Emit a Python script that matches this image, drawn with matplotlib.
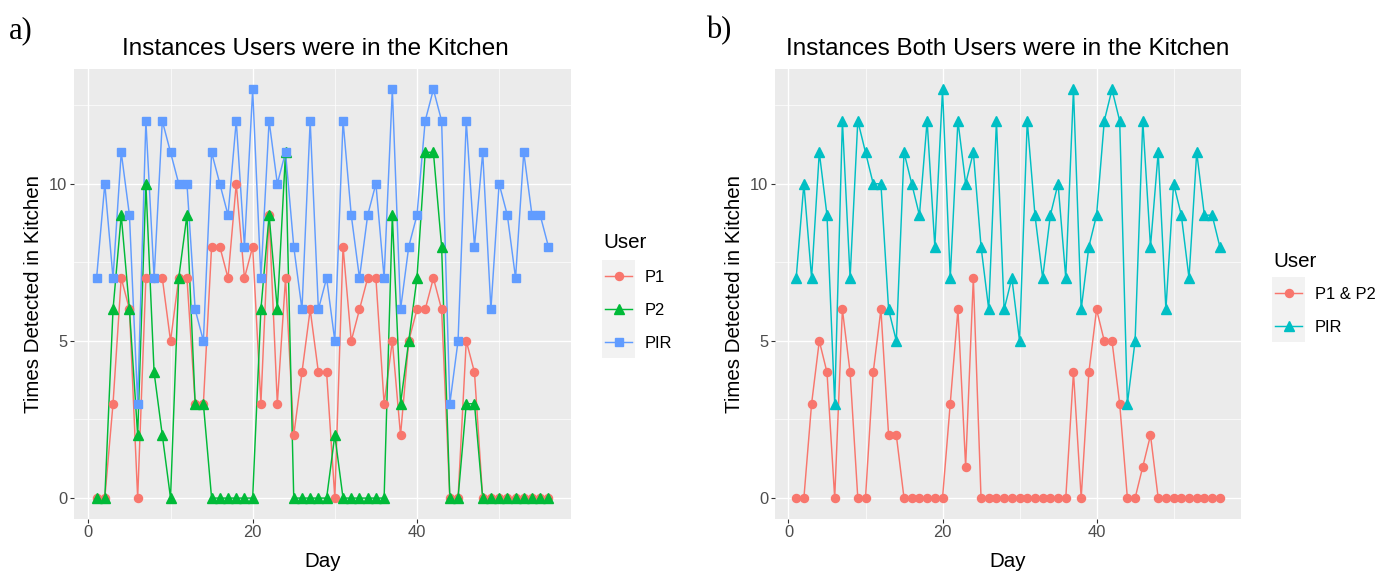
import matplotlib
matplotlib.use("Agg")
import matplotlib.pyplot as plt
from matplotlib.lines import Line2D
from matplotlib.patches import Rectangle

plt.rcParams['font.family'] = ['Liberation Sans', 'DejaVu Sans']

# ---------------- data ----------------
days = list(range(1, 57))
p1 = [0, 0, 3, 7, 6, 0, 7, 7, 7, 5, 7, 7, 3, 3, 8, 8, 7, 10, 7, 8,
      3, 9, 3, 7, 2, 4, 6, 4, 4, 0, 8, 5, 6, 7, 7, 3, 5, 2, 5, 6,
      6, 7, 6, 0, 0, 5, 4, 0, 0, 0, 0, 0, 0, 0, 0, 0]
p2 = [0, 0, 6, 9, 6, 2, 10, 4, 2, 0, 7, 9, 3, 3, 0, 0, 0, 0, 0, 0,
      6, 9, 6, 11, 0, 0, 0, 0, 0, 2, 0, 0, 0, 0, 0, 0, 9, 3, 5, 7,
      11, 11, 8, 0, 0, 3, 3, 0, 0, 0, 0, 0, 0, 0, 0, 0]
pir = [7, 10, 7, 11, 9, 3, 12, 7, 12, 11, 10, 10, 6, 5, 11, 10, 9, 12, 8, 13,
       7, 12, 10, 11, 8, 6, 12, 6, 7, 5, 12, 9, 7, 9, 10, 7, 13, 6, 8, 9,
       12, 13, 12, 3, 5, 12, 8, 11, 6, 10, 9, 7, 11, 9, 9, 8]
both = [0, 0, 3, 5, 4, 0, 6, 4, 0, 0, 4, 6, 2, 2, 0, 0, 0, 0, 0, 0,
        3, 6, 1, 7, 0, 0, 0, 0, 0, 0, 0, 0, 0, 0, 0, 0, 4, 0, 4, 6,
        5, 5, 3, 0, 0, 1, 2, 0, 0, 0, 0, 0, 0, 0, 0, 0]

left_labels = ["P1", "P2", "PIR"]
right_labels = ["P1 & P2", "PIR"]
x_ticks = [0, 20, 40]
y_ticks = [0, 5, 10]
title_a = "Instances Users were in the Kitchen"
title_b = "Instances Both Users were in the Kitchen"
xlabel = "Day"
ylabel = "Times Detected in Kitchen"

# ---------------- style ----------------
W, H = 1387, 571
DPI = 100
RED, GREEN, BLUE, CYAN = "#F8766D", "#00BA38", "#619CFF", "#00BFC4"
BG = "#EBEBEB"
BASE = 14.8
SMALL = 11.9
TITLE = 17.5

fig = plt.figure(figsize=(W / DPI, H / DPI), dpi=DPI)


def px_axes(x0, y0, x1, y1):
    return fig.add_axes([x0 / W, 1 - y1 / H, (x1 - x0) / W, (y1 - y0) / H])


def fx(x):
    return x / W


def fy(y):
    return 1 - y / H


def style_axes(ax):
    ax.set_facecolor(BG)
    for s in ax.spines.values():
        s.set_visible(False)
    ax.set_xlim(-1.75, 58.75)
    ax.set_ylim(-0.65, 13.65)
    ax.set_xticks(x_ticks)
    ax.set_yticks(y_ticks)
    ax.set_xticks([10, 30, 50], minor=True)
    ax.set_yticks([2.5, 7.5, 12.5], minor=True)
    ax.grid(which="major", color="white", linewidth=1.0, zorder=0)
    ax.grid(which="minor", color="white", linewidth=0.5, zorder=0)
    ax.set_axisbelow(True)
    ax.tick_params(which="major", length=3, width=0.8, color="#333333",
                   labelcolor="#4D4D4D", labelsize=SMALL, pad=2)
    ax.tick_params(which="minor", length=0)
    ax.set_xlabel(xlabel, fontsize=BASE, color="black", labelpad=8)
    ax.set_ylabel(ylabel, fontsize=BASE, color="black", labelpad=4)


LW = 1.05

# ---------------- left panel ----------------
axL = px_axes(74, 69, 571, 518.5)
style_axes(axL)
axL.plot(days, p1, color=RED, lw=LW, zorder=2)
axL.plot(days, p2, color=GREEN, lw=LW, zorder=2)
axL.plot(days, pir, color=BLUE, lw=LW, zorder=2)
axL.plot(days, p1, ls="none", marker="o", ms=5.8, color=RED, zorder=3)
axL.plot(days, p2, ls="none", marker="^", ms=6.6, color=GREEN, zorder=3)
axL.plot(days, pir, ls="none", marker="s", ms=5.4, color=BLUE, zorder=3)
axL.set_title(title_a, fontsize=TITLE, pad=10, x=0.485)

# ---------------- right panel ----------------
axR = px_axes(775, 69, 1241, 518.5)
style_axes(axR)
axR.plot(days, both, color=RED, lw=LW, zorder=2)
axR.plot(days, pir, color=CYAN, lw=LW, zorder=2)
axR.plot(days, both, ls="none", marker="o", ms=5.8, color=RED, zorder=3)
axR.plot(days, pir, ls="none", marker="^", ms=6.6, color=CYAN, zorder=3)
axR.set_title(title_b, fontsize=TITLE, pad=10)


# ---------------- legends ----------------
def draw_legend(x0, title_base, top, labels, colors, markers, sizes):
    fig.text(fx(x0 + 1), fy(title_base), "User", fontsize=BASE,
             ha="left", va="baseline")
    kh = 32.7
    kw = 33
    fig.patches.append(Rectangle((fx(x0), fy(top + kh * len(labels))),
                                 kw / W, kh * len(labels) / H,
                                 transform=fig.transFigure,
                                 facecolor="#F2F2F2", edgecolor="none"))
    for i, (lab, c, m, s) in enumerate(zip(labels, colors, markers, sizes)):
        yc = top + kh * (i + 0.5)
        fig.lines.append(Line2D([fx(x0 + 3), fx(x0 + kw - 3)], [fy(yc), fy(yc)],
                                transform=fig.transFigure, color=c, lw=LW))
        fig.lines.append(Line2D([fx(x0 + kw / 2)], [fy(yc)],
                                transform=fig.transFigure, color=c,
                                marker=m, ms=s, ls="none"))
        fig.text(fx(x0 + 43), fy(yc), lab, fontsize=SMALL, ha="left",
                 va="center_baseline")


draw_legend(602, 248, 260, left_labels, [RED, GREEN, BLUE], ["o", "^", "s"],
            [5.8, 6.6, 5.4])
draw_legend(1272, 267, 277, right_labels, [RED, CYAN], ["o", "^"], [5.8, 6.6])

# ---------------- panel tags ----------------
fig.text(fx(9), fy(38), "a)", fontsize=22, family="Liberation Serif",
         ha="left", va="baseline")
fig.text(fx(706), fy(38), "b)", fontsize=22, family="Liberation Serif",
         ha="left", va="baseline")

fig.savefig("out.png", dpi=DPI)
